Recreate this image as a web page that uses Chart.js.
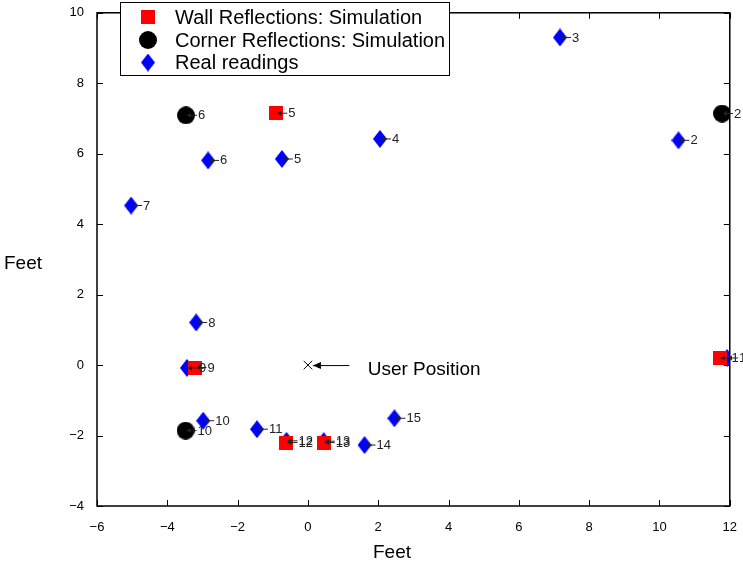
<!DOCTYPE html>
<html>
<head>
<meta charset="utf-8">
<script src="https://cdn.jsdelivr.net/npm/chart.js@4/dist/chart.umd.min.js"></script>
<style>
  html, body { margin: 0; padding: 0; background: #fff; }
  #wrap { width: 743px; height: 566px; }
</style>
</head>
<body>
<div id="wrap"><canvas id="myChart" width="743" height="566"></canvas></div>
<script>
// simulated wall reflections
const wallX = [-0.9, -3.2, -0.61, 0.45, 11.71];
const wallY = [7.15, -0.07, -2.2, -2.2, 0.2];
const wallLabels = ['5', '9', '12', '13', '1'];

// simulated corner reflections
const cornerX = [-3.47, 11.78, -3.48];
const cornerY = [7.09, 7.14, -1.86];
const cornerLabels = ['6', '2', '10'];

// measured readings
const realX = [7.17, 10.54, 2.05, -0.74, -2.84, -5.03, -3.18, -3.44, -2.98, -1.45, -0.61, 0.45, 1.61, 2.46, 11.92];
const realY = [9.3, 6.38, 6.42, 5.85, 5.81, 4.53, 1.21, -0.08, -1.58, -1.82, -2.15, -2.16, -2.27, -1.51, 0.2];
const realLabels = ['3', '2', '4', '5', '6', '7', '8', '9', '10', '11', '12', '13', '14', '15', '1'];

const userX = [0];
const userY = [0];

const xTicks = [-6, -4, -2, 0, 2, 4, 6, 8, 10, 12];
const yTicks = [-4, -2, 0, 2, 4, 6, 8, 10];

const seriesNames = ['Wall Reflections: Simulation', 'Corner Reflections: Simulation', 'Real readings'];

const FONT = '"Liberation Sans", Arial, Helvetica, sans-serif';

function makeMarker(w, h, draw) {
  const c = document.createElement('canvas');
  c.width = w;
  c.height = h;
  draw(c.getContext('2d'), w, h);
  return c;
}

const squareImg = makeMarker(14, 14, (g, w, h) => {
  g.fillStyle = '#ff0000';
  g.fillRect(0, 0, w, h);
});
const circleImg = makeMarker(18, 18, (g, w, h) => {
  g.fillStyle = '#000000';
  g.beginPath();
  g.arc(w / 2, h / 2, w / 2, 0, Math.PI * 2);
  g.fill();
});
const diamondImg = makeMarker(14, 18, (g, w, h) => {
  g.fillStyle = '#0000ff';
  g.beginPath();
  g.moveTo(w / 2, 0);
  g.lineTo(w, h / 2);
  g.lineTo(w / 2, h);
  g.lineTo(0, h / 2);
  g.closePath();
  g.fill();
});

const toPoints = (xs, ys) => xs.map((x, i) => ({ x: x, y: ys[i] }));
const minus = (v) => String(v).replace('-', '\u2212');

// leftarrow + number next to every marker
function drawPointLabels(chart, xs, ys, labels) {
  const c = chart.ctx;
  const sx = chart.scales.x, sy = chart.scales.y;
  xs.forEach((x, i) => {
    const px = sx.getPixelForValue(x);
    const py = sy.getPixelForValue(ys[i]);
    c.strokeStyle = '#222';
    c.fillStyle = '#222';
    c.lineWidth = 1;
    c.beginPath();
    c.moveTo(px + 1, py);
    c.lineTo(px + 11, py);
    c.stroke();
    c.beginPath();
    c.moveTo(px + 1, py);
    c.lineTo(px + 5, py - 2.5);
    c.lineTo(px + 5, py + 2.5);
    c.closePath();
    c.fill();
    c.font = '13px ' + FONT;
    c.textAlign = 'left';
    c.textBaseline = 'middle';
    c.fillText(labels[i], px + 12, py + 0.5);
  });
}

const matlabLook = {
  id: 'matlabLook',
  afterDatasetsDraw(chart) {
    const c = chart.ctx;
    const a = chart.chartArea;
    const sx = chart.scales.x, sy = chart.scales.y;
    c.save();

    // frame + inward ticks
    c.strokeStyle = '#000';
    c.lineWidth = 1.5;
    c.strokeRect(a.left, a.top, a.right - a.left, a.bottom - a.top);
    c.lineWidth = 1;
    c.beginPath();
    xTicks.forEach((t) => {
      const p = Math.round(sx.getPixelForValue(t)) + 0.5;
      c.moveTo(p, a.bottom);
      c.lineTo(p, a.bottom - 6);
      c.moveTo(p, a.top);
      c.lineTo(p, a.top + 6);
    });
    yTicks.forEach((t) => {
      const p = Math.round(sy.getPixelForValue(t)) + 0.5;
      c.moveTo(a.left, p);
      c.lineTo(a.left + 6, p);
      c.moveTo(a.right, p);
      c.lineTo(a.right - 6, p);
    });
    c.stroke();

    drawPointLabels(chart, wallX, wallY, wallLabels);
    drawPointLabels(chart, cornerX, cornerY, cornerLabels);
    drawPointLabels(chart, realX, realY, realLabels);

    // user position arrow + text
    const ux = sx.getPixelForValue(userX[0]);
    const uy = sy.getPixelForValue(userY[0]);
    const tail = sx.getPixelForValue(userX[0] + 1.18);
    c.strokeStyle = '#000';
    c.fillStyle = '#000';
    c.beginPath();
    c.moveTo(tail, uy + 0.5);
    c.lineTo(ux + 5, uy + 0.5);
    c.stroke();
    c.beginPath();
    c.moveTo(ux + 5, uy + 0.5);
    c.lineTo(ux + 13, uy - 3);
    c.lineTo(ux + 13, uy + 4);
    c.closePath();
    c.fill();
    c.font = '19px ' + FONT;
    c.textAlign = 'left';
    c.textBaseline = 'middle';
    c.fillText('User Position', sx.getPixelForValue(userX[0] + 1.7), sy.getPixelForValue(userY[0] - 0.14));

    // legend box
    c.fillStyle = '#fff';
    c.fillRect(120.5, 2.5, 329, 73);
    c.strokeRect(120.5, 2.5, 329, 73);
    const rows = [17, 40, 62.5];
    const imgs = [squareImg, circleImg, diamondImg];
    rows.forEach((ry, i) => {
      const im = imgs[i];
      c.drawImage(im, 148 - im.width / 2, ry - im.height / 2);
      c.fillStyle = '#000';
      c.font = '20px ' + FONT;
      c.textBaseline = 'middle';
      c.fillText(seriesNames[i], 175, ry + 1);
    });

    // axis titles
    c.font = '19px ' + FONT;
    c.textAlign = 'center';
    c.fillText('Feet', 392, 553);
    c.fillText('Feet', 23, 264);
    c.restore();
  },
};

const ctx = document.getElementById('myChart');

new Chart(ctx, {
  type: 'scatter',
  data: {
    datasets: [
      {
        label: seriesNames[0],
        data: toPoints(wallX, wallY),
        pointStyle: squareImg,
      },
      {
        label: seriesNames[1],
        data: toPoints(cornerX, cornerY),
        pointStyle: circleImg,
      },
      {
        label: seriesNames[2],
        data: toPoints(realX, realY),
        pointStyle: diamondImg,
      },
      {
        label: 'User',
        data: toPoints(userX, userY),
        pointStyle: 'crossRot',
        radius: 6,
        borderColor: '#000',
        borderWidth: 1,
      },
    ],
  },
  options: {
    responsive: false,
    animation: false,
    events: [],
    layout: {
      padding: { left: 0, right: 12, top: 9, bottom: 0 },
    },
    scales: {
      x: {
        type: 'linear',
        min: -6,
        max: 12,
        afterFit: (s) => { s.height = 60; },
        afterBuildTicks: (s) => { s.ticks = xTicks.map((v) => ({ value: v })); },
        grid: { display: false },
        border: { display: false },
        ticks: {
          color: '#000',
          padding: 6,
          maxRotation: 0,
          font: { family: FONT, size: 13 },
          callback: minus,
        },
      },
      y: {
        type: 'linear',
        min: -4,
        max: 10,
        afterFit: (s) => { s.width = 97; },
        afterBuildTicks: (s) => { s.ticks = yTicks.map((v) => ({ value: v })); },
        grid: { display: false },
        border: { display: false },
        ticks: {
          color: '#000',
          padding: 5,
          font: { family: FONT, size: 13 },
          callback: minus,
        },
      },
    },
    plugins: {
      legend: { display: false },
      tooltip: { enabled: false },
    },
  },
  plugins: [matlabLook],
});
</script>
</body>
</html>
